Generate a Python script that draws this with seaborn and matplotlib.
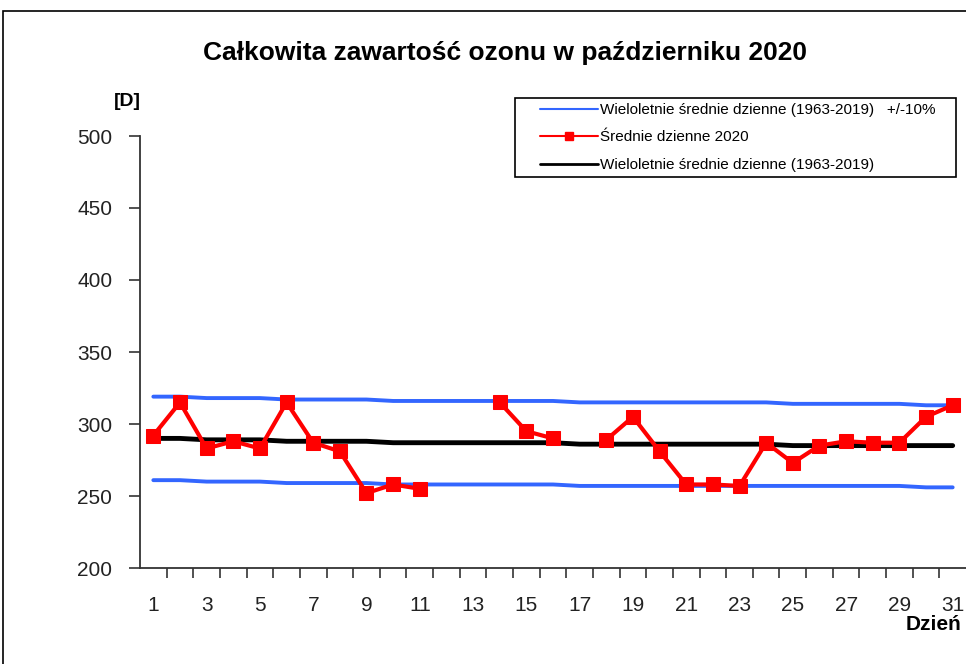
import numpy as np
import pandas as pd
import matplotlib.pyplot as plt
import seaborn as sns
from matplotlib.lines import Line2D
from matplotlib.patches import Rectangle

# data
days = list(range(1, 32))
srednie_2020 = [292, 315, 283, 288, 283, 315, 287, 281, 252, 258, 255, np.nan, np.nan,
                315, 295, 290, np.nan, 289, 305, 281, 258, 258, 257, 287, 273, 285,
                288, 287, 287, 305, 313]
wieloletnie = [290, 290, 289, 289, 289, 288, 288, 288, 288, 287, 287, 287, 287, 287, 287, 287,
               286, 286, 286, 286, 286, 286, 286, 286, 285, 285, 285, 285, 285, 285, 285]
gorna = [319, 319, 318, 318, 318, 317, 317, 317, 317, 316, 316, 316, 316, 316, 316, 316,
         315, 315, 315, 315, 315, 315, 315, 315, 314, 314, 314, 314, 314, 313, 313]
dolna = [261, 261, 260, 260, 260, 259, 259, 259, 259, 258, 258, 258, 258, 258, 258, 258,
         257, 257, 257, 257, 257, 257, 257, 257, 257, 257, 257, 257, 257, 256, 256]

df = pd.DataFrame({'dzien': days, 'srednie': srednie_2020, 'wiel': wieloletnie,
                   'gorna': gorna, 'dolna': dolna})
# split the 2020 series where days are missing so the line has gaps
df['odcinek'] = df['srednie'].isna().cumsum()
red = df.dropna(subset=['srednie'])

sns.set_style('white')
plt.rcParams['font.family'] = ['Liberation Sans', 'DejaVu Sans']
plt.rcParams['text.color'] = 'black'

BLUE = '#3366ff'
W, H = 966, 664
fig = plt.figure(figsize=(9.66, 6.64), dpi=100)
ax = fig.add_axes([140 / W, 1 - 568 / H, 1 - 140 / W, 432 / H])

# outer chart frame (cropped on right/bottom)
fig.patches.append(Rectangle((3 / W, -0.1), 1.2, 1 - 11 / H + 0.1, transform=fig.transFigure,
                             fill=False, edgecolor='black', linewidth=1.2))

sns.lineplot(data=df, x='dzien', y='gorna', color=BLUE, linewidth=2.8, ax=ax)
sns.lineplot(data=df, x='dzien', y='dolna', color=BLUE, linewidth=2.8, ax=ax)
sns.lineplot(data=df, x='dzien', y='wiel', color='black', linewidth=3.5, ax=ax)
sns.lineplot(data=red, x='dzien', y='srednie', units='odcinek', estimator=None,
             color='#ff0000', linewidth=3, marker='s', markersize=9.5,
             markeredgecolor='#ff0000', ax=ax)

ax.set_xlim(0.5, 31.5)
ax.set_ylim(200, 500)
ax.set_yticks(range(200, 501, 50))
ax.set_xticks(range(1, 32, 2))
ax.set_xticks(np.arange(1.5, 31, 1), minor=True)
ax.tick_params(axis='x', which='major', bottom=True, length=0, labelsize=15, pad=20,
               labelcolor='#222222')
ax.tick_params(axis='x', which='minor', bottom=True, length=7, width=1.2, direction='out',
               color='#333333')
ax.tick_params(axis='y', left=True, length=8, width=1.2, direction='out', labelsize=15, pad=12,
               labelcolor='#222222', color='#333333')
ax.set_xlabel('')
ax.set_ylabel('')
for s in ['top', 'right']:
    ax.spines[s].set_visible(False)
for s in ['left', 'bottom']:
    ax.spines[s].set_color('#333333')
    ax.spines[s].set_linewidth(1.3)
ax.grid(False)

fig.text(505 / W, 1 - 53 / H, 'Całkowita zawartość ozonu w październiku 2020',
         ha='center', va='center', fontsize=19, fontweight='bold')
fig.text(127 / W, 1 - 101 / H, '[D]', ha='center', va='center', fontsize=14, fontweight='bold')
fig.text(961 / W, 1 - 625 / H, 'Dzień', ha='right', va='center', fontsize=15, fontweight='bold')

# legend: frame drawn separately so the box matches the original size
fig.patches.append(Rectangle((515 / W, 1 - 177 / H), 441 / W, 79 / H, transform=fig.transFigure,
                             fill=False, edgecolor='black', linewidth=1.2, zorder=5))
handles = [Line2D([], [], color=BLUE, linewidth=1.5),
           Line2D([], [], color='#ff0000', linewidth=1.5, marker='s', markersize=6),
           Line2D([], [], color='black', linewidth=2)]
labels = ['Wieloletnie średnie dzienne (1963-2019)   +/-10%',
          'Średnie dzienne 2020',
          'Wieloletnie średnie dzienne (1963-2019)']
fig.legend(handles, labels, loc='upper left', bbox_to_anchor=(540 / W, 1 - 103 / H),
           fontsize=11, frameon=False, handlelength=3.8, handletextpad=0.15,
           borderpad=0, labelspacing=0.88, borderaxespad=0)

fig.savefig('out.png', dpi=100)
